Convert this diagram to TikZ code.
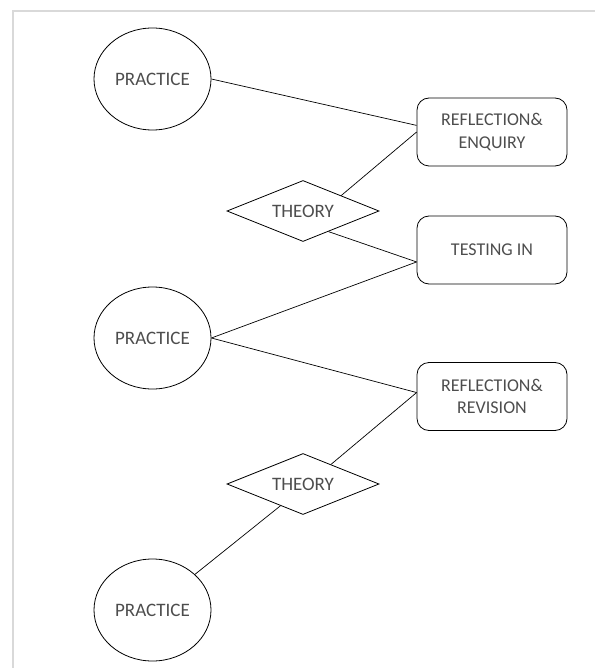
\documentclass[tikz,border=0pt]{standalone}
\usepackage{fontspec}
\setmainfont{Carlito}
\usetikzlibrary{shapes.geometric}
\definecolor{labelgray}{HTML}{4D4D4D}
\definecolor{framegray}{HTML}{D9D9D9}

\begin{document}
\begin{tikzpicture}[x=1pt,y=-1pt,
		practice/.style={ellipse, draw, line width=0.8pt, minimum width=117pt, minimum height=102pt, inner sep=0pt, text=labelgray, font=\fontsize{19}{22}\selectfont},
		theory/.style={diamond, draw, line width=0.8pt, aspect=2.5, minimum width=152pt, minimum height=61pt, inner sep=0pt, text=labelgray, font=\fontsize{19}{22}\selectfont},
		stage/.style={rectangle, rounded corners=12pt, draw, line width=0.8pt, minimum width=150pt, minimum height=68pt, inner sep=0pt, align=center, text=labelgray, font=\fontsize{18}{22.5}\selectfont},
		link/.style={draw, line width=0.7pt}]
		\useasboundingbox (0,0) rectangle (595,668);
		\draw [color=framegray, line width=1.2pt] (13,668) -- (13,11) -- (595,11);

		\node[practice] (practice1) at (152.5,79) {PRACTICE};
		\node[practice] (practice2) at (152.5,338) {PRACTICE};
		\node[practice] (practice3) at (152.5,610) {PRACTICE};
		\node[theory] (theory1) at (303,211) {THEORY};
		\node[theory] (theory2) at (303,484) {THEORY};
		\node[stage] (enquiry) at (492,132) {REFLECTION\&\\ENQUIRY};
		\node[stage] (testing) at (492,250) {TESTING IN};
		\node[stage] (revision) at (492,396.5) {REFLECTION\&\\REVISION};

		\draw[link] (practice1.east) -- (enquiry.175);
		\draw[link] (theory1.north east) -- (enquiry.west);
		\draw[link] (theory1.-39) -- (testing.189);
		\draw[link] (practice2.east) -- (testing.189);
		\draw[link] (practice2.east) -- (revision.177);
		\draw[link] (theory2.35) -- (revision.177);
		\draw[link] (theory2.224) -- (practice3.40);
\end{tikzpicture}
\end{document}
